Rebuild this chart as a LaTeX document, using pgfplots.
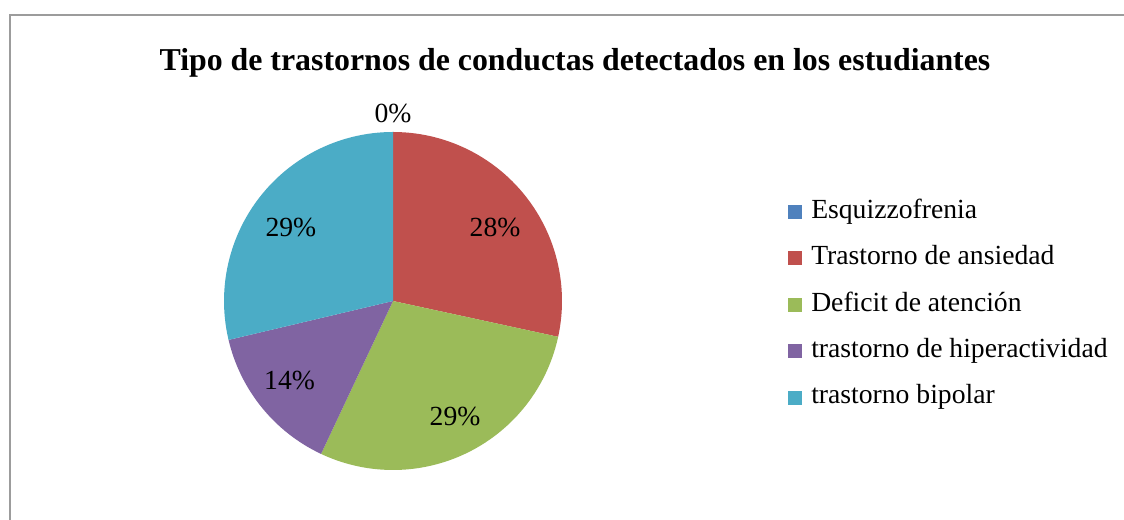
\documentclass[border=0pt]{standalone}
\usepackage{pgfplots}
\usepackage{pgfplotstable}
\pgfplotsset{compat=1.18}
\usepackage{fontspec}
\setmainfont{Liberation Serif}

\definecolor{pie0}{HTML}{4F81BD}
\definecolor{pie1}{HTML}{C0504D}
\definecolor{pie2}{HTML}{9BBB59}
\definecolor{pie3}{HTML}{8064A2}
\definecolor{pie4}{HTML}{4BACC6}
\definecolor{framegray}{HTML}{9C9C9C}

% value = share in percent; lx, ly = label position (axis units, radius 1)
\pgfplotstableread[col sep=comma]{
name,value,lx,ly
Esquizzofrenia,0,0,1.112
Trastorno de ansiedad,28.4,0.604,0.432
Deficit de atención,28.6,0.367,-0.686
trastorno de hiperactividad,14.3,-0.612,-0.470
trastorno bipolar,28.7,-0.604,0.432
}\piedata

\newlength{\pieR}
\setlength{\pieR}{126.75pt}

\begin{document}
\begin{tikzpicture}[x=0.75pt,y=0.75pt]
\useasboundingbox (0,0) rectangle (1124,520);
\draw[framegray, line width=1.5pt] (10.3,505) rectangle (1140,-20);
\node[anchor=base, font=\fontsize{23.88}{28}\selectfont\bfseries] at (575,449)
  {Tipo de trastornos de conductas detectados en los estudiantes};

% compute slice angles from the data
\xdef\cum{90}
\foreach \i in {0,...,4}{
  \pgfplotstablegetelem{\i}{value}\of\piedata
  \pgfmathsetmacro\v{\pgfplotsretval}
  \pgfmathsetmacro\e{\cum-3.6*\v}
  \pgfmathtruncatemacro\lab{round(\v)}
  \pgfplotstablegetelem{\i}{lx}\of\piedata
  \expandafter\xdef\csname pieX\i\endcsname{\pgfplotsretval}
  \pgfplotstablegetelem{\i}{ly}\of\piedata
  \expandafter\xdef\csname pieY\i\endcsname{\pgfplotsretval}
  \expandafter\xdef\csname pieS\i\endcsname{\cum}
  \expandafter\xdef\csname pieE\i\endcsname{\e}
  \expandafter\xdef\csname pieL\i\endcsname{\lab}
  \xdef\cum{\e}
}

\begin{axis}[
  at={(294.75pt,164.25pt)}, anchor=center,
  width=253.5pt, height=253.5pt, scale only axis,
  xmin=-1, xmax=1, ymin=-1, ymax=1,
  hide axis,
  clip=false,
  legend style={draw=none, fill=none, inner sep=0pt,
    at={(axis description cs:1.6686,0.489)}, anchor=west,
    font=\fontsize{20.74}{24}\selectfont,
    nodes={inner sep=0pt, text height=14pt, text depth=4.5pt},
    row sep=16.3pt, column sep=6.75pt},
  legend cell align=left,
  pielegend/.style={legend image code/.code={\fill[##1, draw=none] (0pt,-5.25pt) rectangle (10.5pt,5.25pt);}},
]
\pgfplotsinvokeforeach{0,...,4}{
  \fill[pie#1] (axis cs:0,0) -- ++(\csname pieS#1\endcsname:\pieR)
    arc[start angle=\csname pieS#1\endcsname, end angle=\csname pieE#1\endcsname, radius=\pieR] -- cycle;
}
\pgfplotsinvokeforeach{0,...,4}{
  \node[font=\fontsize{20.74}{24}\selectfont, inner sep=0pt]
    at (axis cs:\csname pieX#1\endcsname,\csname pieY#1\endcsname) {\csname pieL#1\endcsname\%};
}
\addlegendimage{pielegend, fill=pie0}
\addlegendentry{Esquizzofrenia}
\addlegendimage{pielegend, fill=pie1}
\addlegendentry{Trastorno de ansiedad}
\addlegendimage{pielegend, fill=pie2}
\addlegendentry{Deficit de atención}
\addlegendimage{pielegend, fill=pie3}
\addlegendentry{trastorno de hiperactividad}
\addlegendimage{pielegend, fill=pie4}
\addlegendentry{trastorno bipolar}
\end{axis}
\end{tikzpicture}
\end{document}
